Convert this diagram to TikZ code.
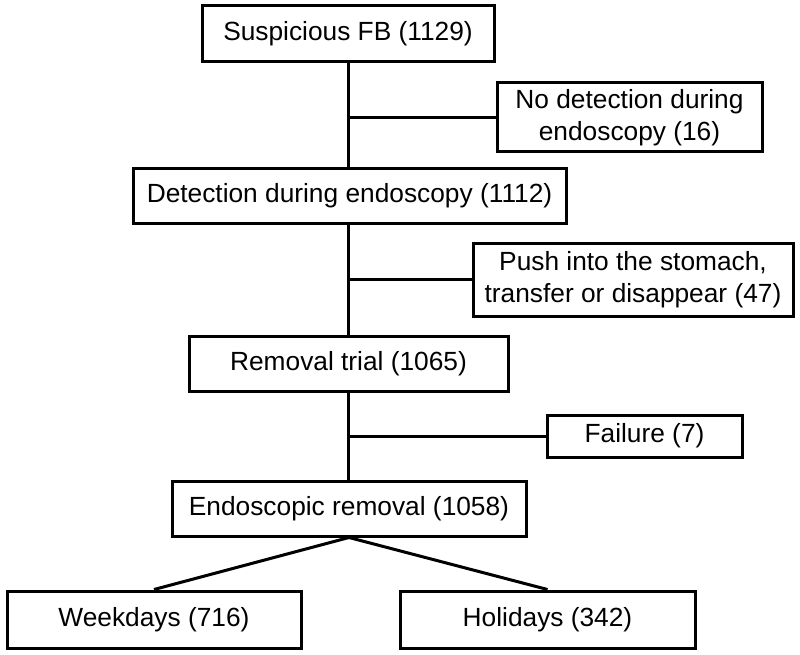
\documentclass[tikz,border=0pt]{standalone}
\usepackage{fontspec}
\setmainfont{Liberation Sans}
\begin{document}
\begin{tikzpicture}[x=1pt,y=-1pt,
  box/.style={draw=black, line width=3pt, rectangle, inner sep=0pt, align=center,
    font=\fontsize{26.3}{31.5}\selectfont, text=black},
  link/.style={draw=black, line width=3pt}]
\useasboundingbox (0,0) rectangle (800,655);
\node[box, minimum width=292pt, minimum height=56pt] (b1) at (348,34) {Suspicious FB (1129)};
\node[box, minimum width=265pt, minimum height=69pt] (b2) at (629.5,117.5) {No detection during\\endoscopy (16)};
\node[box, minimum width=433pt, minimum height=54pt] (b3) at (349.5,196) {Detection during endoscopy (1112)};
\node[box, minimum width=320pt, minimum height=73pt] (b4) at (633,279.5) {Push into the stomach,\\transfer or disappear (47)};
\node[box, minimum width=319pt, minimum height=55pt] (b5) at (348.5,363.5) {Removal trial (1065)};
\node[box, minimum width=195pt, minimum height=42pt] (b6) at (644.5,436) {Failure (7)};
\node[box, minimum width=354pt, minimum height=55pt] (b7) at (349,508.5) {Endoscopic removal (1058)};
\node[box, minimum width=294pt, minimum height=57pt] (b8) at (154,619.5) {Weekdays (716)};
\node[box, minimum width=295pt, minimum height=57pt] (b9) at (547.5,619.5) {Holidays (342)};
\draw[link] (b1.south) -- (b1.south |- b3.north);
\draw[link] (b2.west) -- (b2.west -| b1.south);
\draw[link] (b1.south |- b3.south) -- (b1.south |- b5.north);
\draw[link] (b4.west) -- (b4.west -| b1.south);
\draw[link] (b1.south |- b5.south) -- (b1.south |- b7.north);
\draw[link] (b6.west) -- (b6.west -| b1.south);
\draw[link] (b7.south) -- (b8.north);
\draw[link] (b7.south) -- (b9.north);
\end{tikzpicture}
\end{document}
